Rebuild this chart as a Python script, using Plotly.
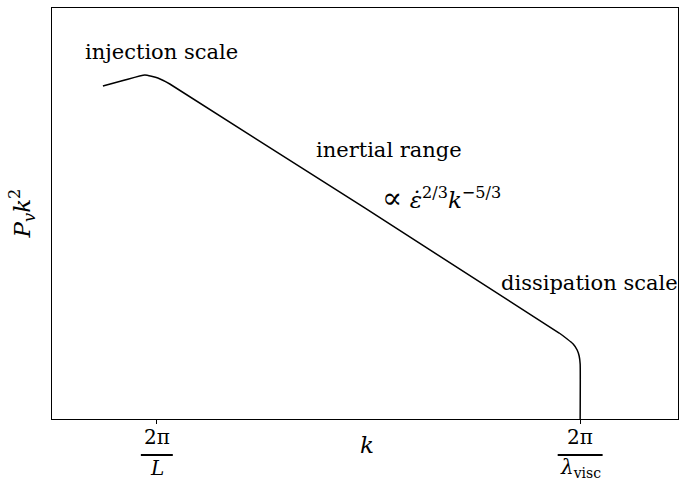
import plotly.graph_objects as go

# Schematic turbulent velocity spectrum (log k vs log P_v k^2, arbitrary units)
log_k = [0.51, 0.73, 0.93, 1.06, 1.18, 5.08, 5.16, 5.22, 5.26, 5.28, 5.29, 5.29]
log_pk2 = [3.33, 3.39, 3.44, 3.41, 3.35, 0.86, 0.80, 0.75, 0.69, 0.63, 0.55, 0.0]

# Characteristic wavenumbers shown on the k axis
tick_pos = [1.05, 5.29]
tick_num = ["2π", "2π"]
tick_den = ["<i>L</i>", "<i>λ</i><sub>visc</sub>"]
bar_half = [0.16, 0.225]

X_RANGE = [0, 6.27]
Y_RANGE = [0, 4.11]
FONT = "DejaVu Serif"


def serif(size):
    return dict(family=FONT, size=size, color="black")


fig = go.Figure()
fig.add_trace(go.Scatter(x=log_k, y=log_pk2, mode="lines",
                         line=dict(color="black", width=1.5, shape="spline", smoothing=0.4),
                         hoverinfo="skip", showlegend=False))

fig.update_layout(
    width=679, height=486,
    margin=dict(l=52, r=1, t=8, b=67),
    paper_bgcolor="white", plot_bgcolor="white",
    font=serif(21),
    xaxis=dict(range=X_RANGE, showgrid=False, zeroline=False, showline=True, mirror=True,
               linecolor="black", linewidth=1.3, tickvals=tick_pos, ticktext=["", ""],
               ticks="outside", ticklen=4, tickcolor="black", tickwidth=1),
    yaxis=dict(range=Y_RANGE, showgrid=False, zeroline=False, showline=True, mirror=True,
               linecolor="black", linewidth=1.3, showticklabels=False, ticks=""),
)

# Fraction-style tick labels under the k axis
for xp, num, den, hw in zip(tick_pos, tick_num, tick_den, bar_half):
    fig.add_annotation(x=xp, y=-0.045, xref="x", yref="paper", text=num, showarrow=False,
                       xanchor="center", yanchor="middle", font=serif(20))
    fig.add_annotation(x=xp, y=-0.12, xref="x", yref="paper", text=den, showarrow=False,
                       xanchor="center", yanchor="middle", font=serif(20))
    fig.add_shape(type="line", xref="x", yref="paper", x0=xp - hw, x1=xp + hw,
                  y0=-0.0875, y1=-0.0875, line=dict(color="black", width=2))

# Axis titles
fig.add_annotation(x=(367 - 52) / 627 * X_RANGE[1], y=-0.064, xref="x", yref="paper",
                   text="<i>k</i>", showarrow=False, xanchor="center", yanchor="middle",
                   font=serif(23))
fig.add_annotation(x=-0.048, y=0.5, xref="paper", yref="paper", textangle=-90,
                   text="<i>P</i><sub><i>v</i></sub><i>k</i><sup>2</sup>", showarrow=False,
                   xanchor="center", yanchor="middle", font=serif(23))

# Regime labels
labels = [
    ("injection scale", 1.1, 3.67, 21),
    ("inertial range", 3.38, 2.69, 21),
    ("<span style='font-size:30px'>∝</span> <i>ε̇</i><sup>2/3</sup><i>k</i><sup>−5/3</sup>",
     3.9, 2.22, 23),
    ("dissipation scale", 5.38, 1.36, 21),
]
for txt, xp, yp, fs in labels:
    fig.add_annotation(x=xp, y=yp, xref="x", yref="y", text=txt, showarrow=False,
                       xanchor="center", yanchor="middle", font=serif(fs))

fig.write_html("out.html")
